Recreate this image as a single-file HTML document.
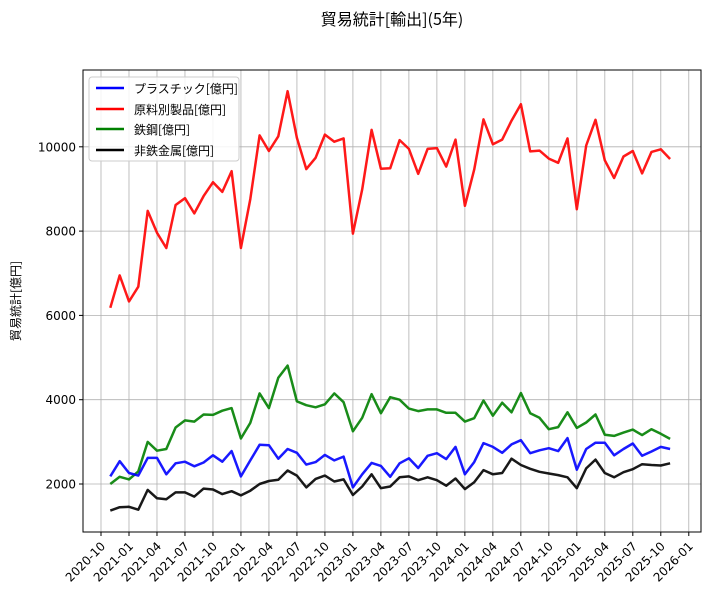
<!DOCTYPE html>
<html><head><meta charset="utf-8"><style>
body{margin:0;background:#fff;font-family:"DejaVu Sans","Noto Sans CJK JP",sans-serif;}
</style></head><body>
<svg id="chart" width="728" height="602" xmlns="http://www.w3.org/2000/svg" font-family="DejaVu Sans, Noto Sans CJK JP, sans-serif">
<text x="392" y="25" font-size="16" text-anchor="middle" font-family="Noto Sans CJK JP, sans-serif">貿易統計[輸出](5年)</text>
<text transform="translate(20,301) rotate(-90)" font-size="12" text-anchor="middle" font-family="Noto Sans CJK JP, sans-serif">貿易統計[億円]</text>
<g id="grid"></g><g id="series"></g><g id="axes"></g>
<rect x="83" y="70" width="618" height="462" fill="none" stroke="#000" stroke-width="1"/>
<g font-family="Noto Sans CJK JP, sans-serif">
<rect x="89" y="77" width="150" height="84" rx="3" fill="#fff" fill-opacity="0.85" stroke="#ccc"/>
<line x1="96" y1="88" x2="124" y2="88" stroke="#0000ff" stroke-width="2.5"/><text x="134" y="93" font-size="12">プラスチック[億円]</text>
<line x1="96" y1="109" x2="124" y2="109" stroke="#ff0000" stroke-width="2.5"/><text x="134" y="114" font-size="12">原料別製品[億円]</text>
<line x1="96" y1="129" x2="124" y2="129" stroke="#008000" stroke-width="2.5"/><text x="134" y="134" font-size="12">鉄鋼[億円]</text>
<line x1="96" y1="150" x2="124" y2="150" stroke="#000" stroke-width="2.5"/><text x="134" y="155" font-size="12">非鉄金属[億円]</text>
</g>
</svg>
<script>
const startMonth = "2020-11";
const plastic = [2180,2540,2260,2200,2620,2620,2230,2490,2530,2420,2510,2680,2530,2780,2180,2560,2930,2920,2600,2830,2740,2460,2520,2690,2560,2650,1920,2230,2500,2430,2170,2490,2610,2380,2670,2730,2590,2880,2230,2520,2970,2880,2740,2940,3040,2730,2800,2850,2780,3090,2340,2830,2980,2980,2680,2830,2960,2670,2770,2880,2830];
const materials = [6180,6950,6330,6680,8480,7960,7600,8620,8780,8420,8830,9160,8930,9420,7600,8760,10270,9900,10250,11320,10210,9470,9740,10290,10120,10200,7940,8990,10400,9480,9490,10160,9950,9360,9950,9970,9530,10170,8600,9460,10650,10060,10170,10620,11010,9890,9910,9720,9620,10200,8520,10030,10640,9680,9260,9770,9900,9370,9880,9940,9710];
const steel = [2000,2170,2110,2300,3000,2790,2830,3340,3510,3480,3650,3640,3740,3800,3080,3450,4150,3800,4520,4810,3960,3870,3820,3890,4150,3940,3250,3570,4130,3680,4060,4000,3790,3730,3770,3770,3690,3690,3480,3560,3980,3620,3930,3700,4160,3680,3570,3300,3350,3700,3330,3460,3650,3170,3140,3220,3290,3160,3300,3190,3070];
const nonferrous = [1370,1450,1460,1390,1860,1660,1640,1800,1800,1700,1890,1870,1760,1830,1730,1840,2000,2070,2100,2320,2200,1920,2120,2200,2060,2110,1740,1940,2230,1900,1940,2160,2180,2090,2160,2090,1960,2130,1880,2040,2330,2230,2260,2600,2450,2360,2290,2250,2210,2160,1900,2370,2580,2260,2160,2280,2350,2470,2450,2440,2490];
const yTicks = [2000,4000,6000,8000,10000];
const xTickLabels = ["2020-10","2021-01","2021-04","2021-07","2021-10","2022-01","2022-04","2022-07","2022-10","2023-01","2023-04","2023-07","2023-10","2024-01","2024-04","2024-07","2024-10","2025-01","2025-04","2025-07","2025-10","2026-01"];

const NS="http://www.w3.org/2000/svg";
const gGrid=document.getElementById('grid'),gSer=document.getElementById('series'),gAx=document.getElementById('axes');
function monthIdx(s){const [y,m]=s.split('-').map(Number);return y*12+(m-1);}
const m0=monthIdx("2020-10");
function xScale(mi){return 101+(mi-m0)*9.33;}
function yScale(v){return 484-(v-2000)*84.3/2000;}
function mk(tag,attrs,parent){const e=document.createElementNS(NS,tag);for(const k in attrs)e.setAttribute(k,attrs[k]);parent.appendChild(e);return e;}
yTicks.forEach(v=>{
  const y=yScale(v);
  const gl=mk('line',{x1:83,x2:701,y1:y,y2:y,stroke:'#b0b0b0','stroke-width':0.8},gGrid);
  
  
  mk('line',{x1:79,x2:83,y1:y,y2:y,stroke:'#000'},gAx);
  const t=mk('text',{x:76,y:y+4.5,'font-size':12,'text-anchor':'end'},gAx);
  t.textContent=v;
  
  
});
xTickLabels.forEach(s=>{
  const x=xScale(monthIdx(s));
  const gl=mk('line',{x1:x,x2:x,y1:70,y2:532,stroke:'#b0b0b0','stroke-width':0.8},gGrid);
  
  
  mk('line',{x1:x,x2:x,y1:532,y2:536,stroke:'#000'},gAx);
  const t=mk('text',{x:x+5,y:547,'font-size':12,'text-anchor':'end',transform:`rotate(-45 ${x+5} 547)`},gAx);
  t.textContent=s;
  
  
});
const s0=monthIdx(startMonth);
[[materials,'#ff0000','line-materials'],[steel,'#008000','line-steel'],[plastic,'#0000ff','line-plastic'],[nonferrous,'#000000','line-nonferrous']].forEach(([d,c,n])=>{
  const pts=d.map((v,i)=>xScale(s0+i).toFixed(1)+','+yScale(v).toFixed(1)).join(' ');
  const p=mk('polyline',{points:pts,fill:'none',stroke:c,'stroke-width':2.5,'stroke-linejoin':'round','stroke-opacity':0.9},gSer);
  
  
});
</script>
</body></html>
